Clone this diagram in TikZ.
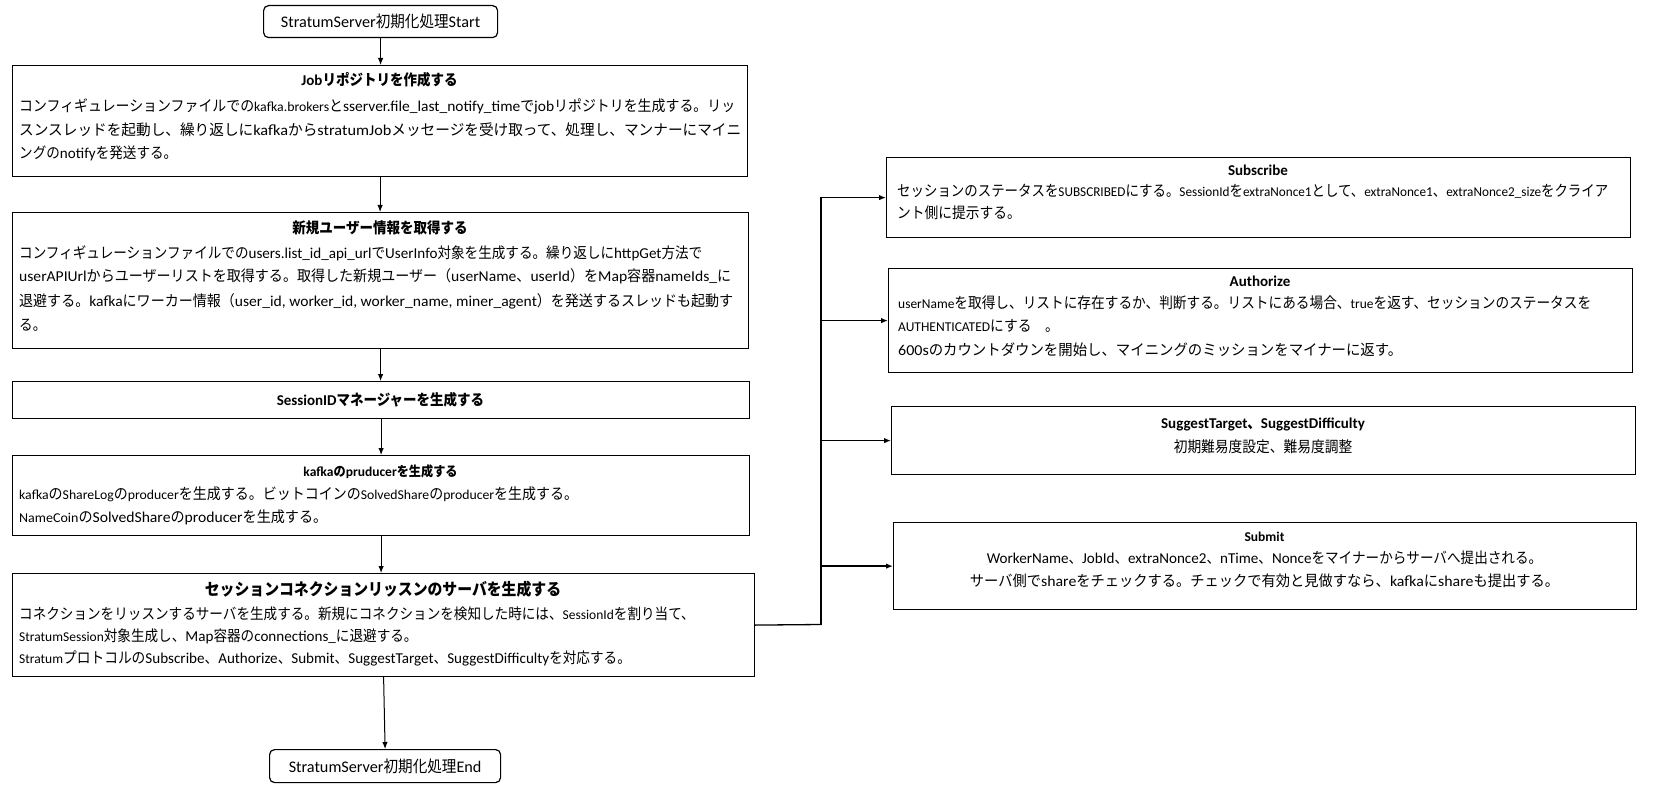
\documentclass[tikz,border=0pt]{standalone}
\usepackage{fontspec}
\usepackage{graphicx}
\setmainfont{Carlito}
\newfontfamily\jpfont[Scale=1.0,FakeStretch=0.9]{Noto Sans CJK JP}
\newfontfamily\jpfontB[Scale=1.13,FakeStretch=0.9]{Noto Sans CJK JP}
\usetikzlibrary{arrows.meta}
\XeTeXinterchartokenstate=1
\newXeTeXintercharclass\JPcls
\newcommand\setjprange[2]{\count255=#1 \loop\XeTeXcharclass\count255=\JPcls \ifnum\count255<#2 \advance\count255 by 1 \repeat}
\setjprange{"3000}{"30FF}
\setjprange{"4E00}{"9FFF}
\setjprange{"FF00}{"FFEF}
\def\curjp{\jpfont}
\XeTeXinterchartoks 0 \JPcls = {\curjp}
\XeTeXinterchartoks 4095 \JPcls = {\curjp}
\XeTeXinterchartoks \JPcls 0 = {\rmfamily}
\XeTeXinterchartoks \JPcls 4095 = {\rmfamily}
\newcommand\sm{\fontsize{13.5}{16}\selectfont\let\curjp\jpfontB}
\newcommand\fitw[2]{\resizebox{#1pt}{\height}{#2}}
\tikzset{
  box/.style={draw, line width=1.2pt, inner sep=0pt, fill=white, anchor=north west},
  rbox/.style={box, rounded corners=5pt},
  ttl/.style={anchor=base, inner sep=0pt, font=\bfseries\fontsize{15}{18}\selectfont},
  txt/.style={anchor=base west, inner sep=0pt, font=\fontsize{15.1}{18}\selectfont},
  txts/.style={txt, font=\sm},
  txtc/.style={txt, anchor=base},
  arr/.style={line width=1pt, -{Latex[length=7pt,width=5.5pt]}},
  conn/.style={line width=1.3pt},
}
\begin{document}
\begin{tikzpicture}[x=1pt,y=-1pt]
\useasboundingbox (0,0) rectangle (1678,794);
% ---------- boxes ----------
\node[rbox, minimum width=234pt, minimum height=32pt, font=\fontsize{16.2}{19}\selectfont] (start) at (263,5) {StratumServer初期化処理Start};
\node[box, minimum width=735pt, minimum height=111pt] (job) at (12,65) {};
\node[box, minimum width=736pt, minimum height=136pt] (user) at (12,212) {};
\node[box, minimum width=737pt, minimum height=37pt] (sid) at (12,381) {};
\node[box, minimum width=737pt, minimum height=80pt] (kaf) at (12,455) {};
\node[box, minimum width=742pt, minimum height=103pt] (sess) at (12,573) {};
\node[rbox, minimum width=231pt, minimum height=33pt, font=\fontsize{16.2}{19}\selectfont] (end) at (269,749) {StratumServer初期化処理End};
\node[box, minimum width=744pt, minimum height=80pt] (sub) at (886,157) {};
\node[box, minimum width=744pt, minimum height=104pt] (auth) at (888,268) {};
\node[box, minimum width=744pt, minimum height=68pt] (sug) at (891,406) {};
\node[box, minimum width=743pt, minimum height=87pt] (smt) at (893,522) {};
% ---------- texts: left column ----------
\node[ttl] (jobT) at (379.5,85.5) {Jobリポジトリを作成する};
\node[txt] (jobL1) at (19,112) {\fitw{716}{コンフィギュレーションファイルでの{\sm kafka.brokers}とsserver.file\_last\_notify\_timeでjobリポジトリを生成する。リッ}};
\node[txt] (jobL2) at (19,135.5) {\fitw{722}{スンスレッドを起動し、繰り返しにkafkaからstratumJobメッセージを受け取って、処理し、マンナーにマイニ}};
\node[txt] (jobL3) at (19,159) {ングのnotifyを発送する。};

\node[ttl] (userT) at (380,233.5) {新規ユーザー情報を取得する};
\node[txt] (userL1) at (19,258.5) {コンフィギュレーションファイルでのusers.list\_id\_api\_urlでUserInfo対象を生成する。繰り返しにhttpGet方法で};
\node[txt] (userL2) at (19,282) {\fitw{712}{userAPIUrlからユーザーリストを取得する。取得した新規ユーザー（userName、userId）をMap容器nameIds\_に}};
\node[txt] (userL3) at (19,307) {\fitw{714}{退避する。kafkaにワーカー情報（user\_id, worker\_id, worker\_name, miner\_agent）を発送するスレッドも起動す}};
\node[txt] (userL4) at (19,330) {る。};

\node[ttl] (sidT) at (380.5,405) {SessionIDマネージャーを生成する};

\node[ttl, font=\bfseries\fontsize{13.5}{16}\selectfont] (kafT) at (380.5,476.5) {kafkaのpruducerを生成する};
\node[txts] (kafL1) at (19,499) {\fitw{559}{kafkaのShareLogのproducerを生成する。ビットコインのSolvedShareのproducerを生成する。}};
\node[txt] (kafL2) at (19,522.5) {\fitw{308}{{\sm NameCoin}のSolvedShareのproducerを生成する。}};

\node[ttl, font=\bfseries\fontsize{16.5}{20}\selectfont] (sessT) at (383,595.5) {セッションコネクションリッスンのサーバを生成する};
\node[txt] (sessL1) at (19,619) {コネクションをリッスンするサーバを生成する。新規にコネクションを検知した時には、{\sm SessionId}を割り当て、};
\node[txt] (sessL2) at (19,641) {{\sm StratumSession}対象生成し、Map容器のconnections\_に退避する。};
\node[txt] (sessL3) at (19,663) {{\sm Stratumプロトコルの}Subscribe、Authorize、Submit、SuggestTarget、SuggestDifficultyを対応する。};
% ---------- texts: right column ----------
\node[ttl] (subT) at (1258,176) {Subscribe};
\node[txts] (subL1) at (897,196.5) {\fitw{711}{セッションのステータスをSUBSCRIBEDにする。SessionIdをextraNonce1として、extraNonce1、extraNonce2\_sizeをクライア}};
\node[txts] (subL2) at (897,219) {ント側に提示する。};

\node[ttl] (authT) at (1260,286.5) {Authorize};
\node[txts] (authL1) at (898,308) {\fitw{693}{userNameを取得し、リストに存在するか、判断する。リストにある場合、trueを返す、セッションのステータスを}};
\node[txts] (authL2) at (898,331) {AUTHENTICATEDにする　。};
\node[txt] (authL3) at (898,355.5) {\fitw{504}{600sのカウントダウンを開始し、マイニングのミッションをマイナーに返す。}};

\node[ttl] (sugT) at (1263,428.5) {SuggestTarget、SuggestDifficulty};
\node[txts, anchor=base] (sugL1) at (1263,452) {初期難易度設定、難易度調整};

\node[ttl, font=\bfseries\fontsize{13.5}{16}\selectfont] (smtT) at (1264.5,541) {Submit};
\node[txtc] (smtL1) at (1264.5,563) {WorkerName、JobId、extraNonce2、nTime、Nonceをマイナーからサーバへ提出される。};
\node[txtc] (smtL2) at (1264.5,586.5) {\fitw{589}{サーバ側でshareをチェックする。チェックで有効と見做すなら、kafkaにshareも提出する。}};
% ---------- connectors ----------
\draw[arr] (start.south) -- (start.south |- job.north);
\draw[arr] (job.south) -- (job.south |- user.north);
\draw[arr] (user.south) -- (user.south |- sid.north);
\draw[arr] (sid.south) -- (sid.south |- kaf.north);
\draw[arr] (kaf.south) -- (kaf.south |- sess.north);
\draw[arr] (sess.south) -- (end.north);
\coordinate (bus) at (821,624.5);
\draw[conn] (sess.east) -- (bus);
\draw[arr, line width=1.3pt] (bus) |- (sub.west);
\draw[arr, line width=1.3pt] (bus) |- (auth.west);
\draw[arr, line width=1.3pt] (bus) |- (sug.west);
\draw[arr, line width=1.3pt] (bus) |- (smt.west);
\end{tikzpicture}
\end{document}
